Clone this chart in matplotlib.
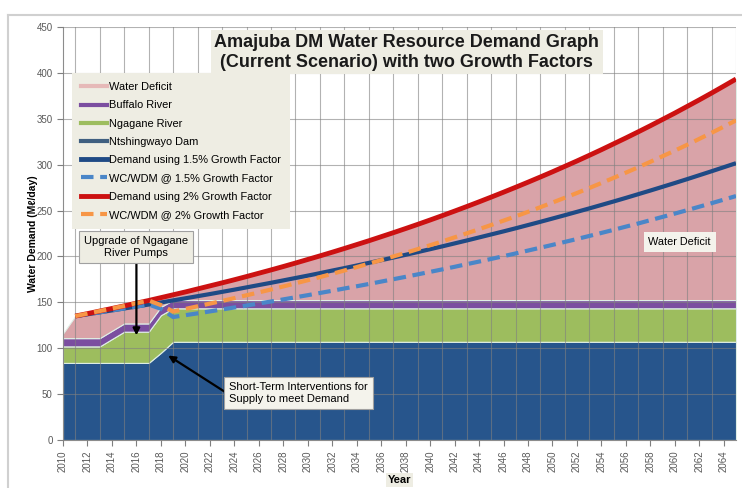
import numpy as np
import matplotlib.pyplot as plt
from matplotlib.lines import Line2D

# years on the category axis
years = list(range(2010, 2066))
line_years = years[1:]          # demand curves start in 2011

# supply stack (Ml/day)
ntshingwayo = [84] * 8 + [95] + [107] * 47
ngagane = [18] * 4 + [26] + [34] * 3 + [41] + [36.5] * 47
buffalo = [9] * 56
deficit_top_2010 = 116

demand_2 = [135.0, 137.7, 140.5, 143.3, 146.1, 149.1, 152.0, 155.1, 158.2, 161.3,
            164.6, 167.9, 171.2, 174.6, 178.1, 181.7, 185.3, 189.0, 192.8, 196.7,
            200.6, 204.6, 208.7, 212.9, 217.1, 221.5, 225.9, 230.4, 235.0, 239.7,
            244.5, 249.4, 254.4, 259.5, 264.7, 270.0, 275.4, 280.9, 286.5, 292.2,
            298.1, 304.0, 310.1, 316.3, 322.7, 329.1, 335.7, 342.4, 349.3, 356.2,
            363.4, 370.6, 378.0, 385.6, 393.3]
demand_15 = [135.0, 137.0, 139.1, 141.2, 143.3, 145.4, 147.6, 149.8, 152.1, 154.4,
             156.7, 159.0, 161.4, 163.8, 166.3, 168.8, 171.3, 173.9, 176.5, 179.1,
             181.8, 184.6, 187.3, 190.1, 193.0, 195.9, 198.8, 201.8, 204.8, 207.9,
             211.0, 214.2, 217.4, 220.7, 224.0, 227.3, 230.7, 234.2, 237.7, 241.3,
             244.9, 248.6, 252.3, 256.1, 259.9, 263.8, 267.8, 271.8, 275.9, 280.0,
             284.2, 288.5, 292.8, 297.2, 301.6]
wcwdm_15 = [135.0, 137.0, 139.1, 141.2, 143.3, 145.4, 147.6, 143.0,
            134.0, 136.0, 138.0, 140.1, 142.2, 144.4, 146.5, 148.7, 150.9, 153.2,
            155.5, 157.8, 160.2, 162.6, 165.1, 167.5, 170.0, 172.6, 175.2, 177.8,
            180.5, 183.2, 185.9, 188.7, 191.6, 194.4, 197.3, 200.3, 203.3, 206.4,
            209.5, 212.6, 215.8, 219.0, 222.3, 225.6, 229.0, 232.5, 235.9, 239.5,
            243.1, 246.7, 250.4, 254.2, 258.0, 261.9, 265.8]
wcwdm_2 = [135.0, 137.7, 140.5, 143.3, 146.1, 149.1, 152.0, 147.0,
           140.0, 142.8, 145.7, 148.6, 151.5, 154.6, 157.7, 160.8, 164.0, 167.3,
           170.7, 174.1, 177.5, 181.1, 184.7, 188.4, 192.2, 196.0, 200.0, 203.9,
           208.0, 212.2, 216.4, 220.8, 225.2, 229.7, 234.3, 239.0, 243.7, 248.6,
           253.6, 258.7, 263.9, 269.1, 274.5, 280.0, 285.6, 291.3, 297.1, 303.1,
           309.2, 315.3, 321.6, 328.1, 334.7, 341.4, 348.2]

legend_labels = ["Water Deficit", "Buffalo River", "Ngagane River", "Ntshingwayo Dam",
                 "Demand using 1.5% Growth Factor", "WC/WDM @ 1.5% Growth Factor",
                 "Demand using 2% Growth Factor", "WC/WDM @ 2% Growth Factor"]

plt.rcParams['font.family'] = ['Liberation Sans', 'DejaVu Sans']

C_DAM = '#27558c'
C_NGA = '#9dbd5e'
C_BUF = '#7b4ea0'
C_DEF = '#d9a3a8'
C_D15 = '#1f4a85'
C_W15 = '#4a86c8'
C_D2 = '#cc1111'
C_W2 = '#f79646'
BOX = '#eeede3'

fig = plt.figure(figsize=(7.42, 4.88), dpi=100)
ax = fig.add_axes([63 / 742, 1 - 440 / 488, 673 / 742, 413 / 488])

supply_top = np.array(ntshingwayo) + np.array(ngagane) + np.array(buffalo)
deficit = np.array([deficit_top_2010] + demand_2) - supply_top

ax.stackplot(years, ntshingwayo, ngagane, buffalo, deficit,
             colors=[C_DAM, C_NGA, C_BUF, C_DEF],
             edgecolor='#dfeee6', linewidth=0.8, zorder=2)

# grid over the areas
ax.set_xticks(years, minor=True)
ax.grid(True, which='minor', axis='x', color='#808080', alpha=0.6, lw=0.8, zorder=3)
ax.grid(True, which='major', axis='y', color='#808080', alpha=0.6, lw=0.8, zorder=3)
ax.set_axisbelow(False)

ax.plot(line_years, demand_15, color=C_D15, lw=3, zorder=4, solid_capstyle='butt')
ax.plot(line_years, wcwdm_15, color=C_W15, lw=3, ls=(0, (3, 1.6)), zorder=5)
ax.plot(line_years, demand_2, color=C_D2, lw=3.5, zorder=6, solid_capstyle='butt')
ax.plot(line_years, wcwdm_2, color=C_W2, lw=3, ls=(0, (3, 1.6)), zorder=7)

ax.set_xlim(2010, 2065)
ax.set_ylim(0, 450)
ax.set_yticks(range(0, 451, 50))
ax.set_xticks(years[::2])
ax.set_xticklabels([str(y) for y in years[::2]], rotation=90)
ax.tick_params(axis='both', which='major', labelsize=7, colors='#7f7f7f',
               labelcolor='#595959', length=4, width=0.8)
ax.tick_params(axis='x', which='minor', length=0)
for side in ['top', 'right']:
    ax.spines[side].set_visible(False)
for side in ['left', 'bottom']:
    ax.spines[side].set_color('#8c8c8c')
    ax.spines[side].set_linewidth(0.8)

ax.set_ylabel("Water Demand (Mℓ/day)", fontsize=7.5, fontweight='bold')
ax.yaxis.set_label_coords(-0.037, 0.5)
ax.set_xlabel("Year", fontsize=8, fontweight='bold',
              bbox=dict(boxstyle='square,pad=0.2', fc=BOX, ec='none'))
ax.xaxis.set_label_coords(0.5, -0.085)

# title box
ax.text(2038.1, 422.5, "Amajuba DM Water Resource Demand Graph\n(Current Scenario) with two Growth Factors",
        ha='center', va='center', fontsize=13, fontweight='bold', color='#1a1a1a',
        linespacing=1.2, zorder=9,
        bbox=dict(boxstyle='square,pad=0.2', fc=BOX, ec='none'))

handles = [Line2D([], [], color='#e6b9b8', lw=3),
           Line2D([], [], color=C_BUF, lw=3),
           Line2D([], [], color=C_NGA, lw=3),
           Line2D([], [], color='#3f5f80', lw=3),
           Line2D([], [], color=C_D15, lw=3.5),
           Line2D([], [], color=C_W15, lw=3, ls=(0, (3, 1.6))),
           Line2D([], [], color=C_D2, lw=3.5),
           Line2D([], [], color=C_W2, lw=3, ls=(0, (3, 1.6)))]
leg = ax.legend(handles, legend_labels, loc='upper left', bbox_to_anchor=(0.013, 0.889),
                fontsize=7.9, frameon=True, fancybox=False, borderaxespad=0,
                labelspacing=0.75, handlelength=2.4, handletextpad=0.15,
                borderpad=0.85)
leg.get_frame().set_facecolor(BOX)
leg.get_frame().set_edgecolor('none')
leg.get_frame().set_alpha(1)
leg.set_zorder(9)

ann_box = dict(boxstyle='square,pad=0.45', fc=BOX, ec='#a0a0a0', lw=0.8)
ax.annotate("Upgrade of Ngagane\nRiver Pumps", xy=(2016, 114), xytext=(2016, 210),
            ha='center', va='center', fontsize=8, bbox=ann_box, zorder=9,
            arrowprops=dict(arrowstyle='-|>', color='black', lw=1.6, shrinkA=0, shrinkB=0,
                            mutation_scale=10))
ax.annotate("", xy=(2018.6, 92), xytext=(2023.4, 51), zorder=9,
            arrowprops=dict(arrowstyle='-|>', color='black', lw=1.6, shrinkA=0, shrinkB=0,
                            mutation_scale=10))
ax.text(2023.6, 51, "Short-Term Interventions for\nSupply to meet Demand", ha='left', va='center',
        fontsize=8, bbox=dict(boxstyle='square,pad=0.45', fc='#f4f3ec', ec='#a0a0a0', lw=0.8),
        zorder=9)
ax.text(2060.4, 216, "Water Deficit", ha='center', va='center', fontsize=7.8,
        bbox=dict(boxstyle='square,pad=0.45', fc='#f4f3ec', ec='none'), zorder=9)

# outer chart frame
fig.add_artist(Line2D([8 / 742, 1], [1 - 15 / 488, 1 - 15 / 488], color='#d0d0d0', lw=1.5))
fig.add_artist(Line2D([8 / 742, 8 / 742], [0, 1 - 15 / 488], color='#d0d0d0', lw=1.5))

fig.savefig("out.png", dpi=100)
